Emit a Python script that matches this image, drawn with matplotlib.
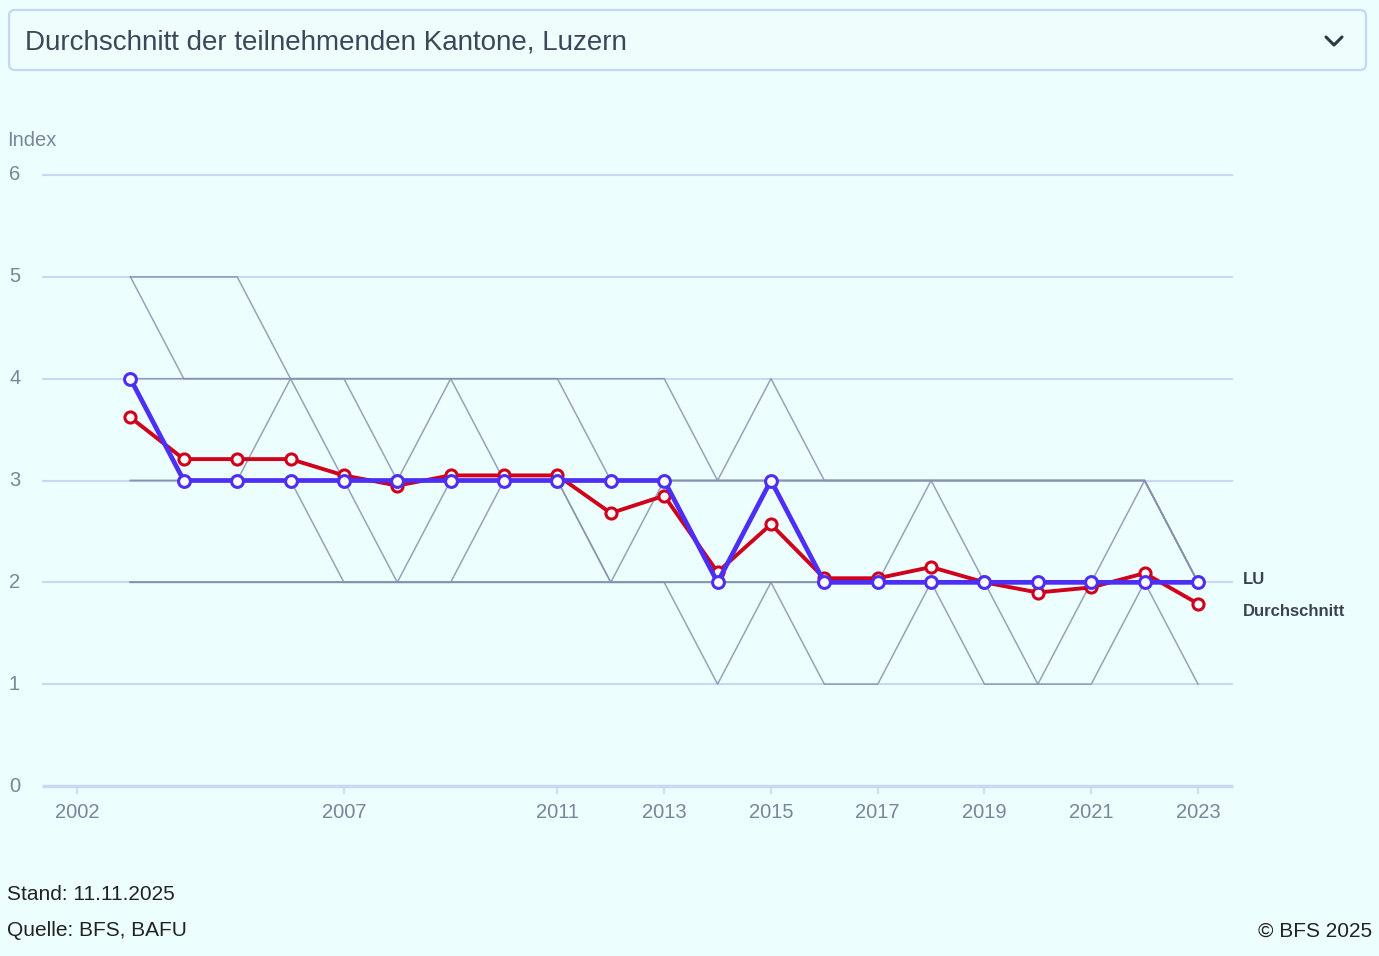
import numpy as np
import matplotlib.pyplot as plt
from matplotlib.patches import FancyBboxPatch
from matplotlib.transforms import blended_transform_factory

plt.rcParams["font.family"] = ["Liberation Sans", "DejaVu Sans"]

years = list(range(2003, 2024))
xtick_years = [2002, 2007, 2011, 2013, 2015, 2017, 2019, 2021, 2023]
ytick_values = [0, 1, 2, 3, 4, 5, 6]

# Luzern and average of participating cantons
lu = [4, 3, 3, 3, 3, 3, 3, 3, 3, 3, 3, 2, 3, 2, 2, 2, 2, 2, 2, 2, 2]
average = [3.62, 3.21, 3.21, 3.21, 3.05, 2.95, 3.05, 3.05, 3.05, 2.68, 2.85,
           2.10, 2.57, 2.04, 2.04, 2.15, 2.00, 1.90, 1.95, 2.09, 1.79]

# other participating cantons (grey background lines)
canton_a = [5, 4, 4, 4, 4, 4, 4, 4, 4, 4, 4, 3, 4, 3, 3, 3, 3, 3, 3, 3, 2]
canton_b = [5, 5, 5, 4, 3, 2, 3, 3, 3, 2, 2, 2, 2, 2, 2, 2, 2, 2, 2, 2, 2]
canton_c = [3, 3, 3, 4, 4, 3, 4, 3, 3, 3, 3, 3, 3, 3, 3, 3, 3, 3, 3, 3, 2]
canton_d = [4, 4, 4, 4, 4, 4, 4, 4, 4, 3, 3, 3, 3, 3, 3, 3, 3, 3, 3, 3, 2]
canton_e = [2, 2, 2, 2, 2, 2, 2, 2, 2, 2, 2, 1, 2, 1, 1, 2, 1, 1, 1, 2, 1]
canton_f = [2, 2, 2, 2, 2, 2, 2, 2, 2, 2, 2, 2, 2, 2, 2, 3, 2, 1, 2, 3, 2]
canton_g = [3, 3, 3, 3, 2, 2, 2, 3, 3, 2, 3, 3, 3, 3, 3, 3, 3, 3, 3, 3, 2]
canton_h = [2, 2, 2, 2, 2, 2, 2, 2, 2, 2, 2, 2, 2, 2, 2, 2, 2, 2, 2, 2, 2]
cantons = [canton_a, canton_b, canton_c, canton_d, canton_e, canton_f, canton_g, canton_h]

BG = "#edfefe"
GRID = "#cad9f3"
GREY_LINE = "#8792aa"
TICK_TEXT = "#7a849a"
LU_COLOR = "#4c2ef5"
AVG_COLOR = "#d0021b"

W, H = 1379, 956
fig = plt.figure(figsize=(W / 100, H / 100), dpi=100, facecolor=BG)

# overlay in pixel coordinates for the header box and footer texts
deco = fig.add_axes([0, 0, 1, 1], zorder=0)
deco.set_xlim(0, W)
deco.set_ylim(H, 0)
deco.axis("off")
deco.patch.set_alpha(0)

box = FancyBboxPatch((12, 13), 1351, 54, boxstyle="round,pad=3,rounding_size=6",
                     facecolor="#f0fdfd", edgecolor="#c6d6f6", linewidth=1.6)
deco.add_patch(box)
deco.text(25, 42, "Durchschnitt der teilnehmenden Kantone, Luzern", fontsize=20,
          color="#3c4759", va="center", ha="left")
deco.plot([1326, 1334, 1342], [37, 45, 37], color="#2f3747", lw=2.2,
          solid_capstyle="round", solid_joinstyle="round")

deco.text(7, 140, "Index", fontsize=14.5, color=TICK_TEXT, va="center", ha="left")
deco.text(7, 894, "Stand: 11.11.2025", fontsize=15, color="#222222", va="center", ha="left")
deco.text(7, 931, "Quelle: BFS, BAFU", fontsize=15, color="#222222", va="center", ha="left")
deco.text(1372, 931, "\u00a9 BFS 2025", fontsize=15, color="#222222", va="center", ha="right")

# main chart
px_per_year = (1198 - 77) / 21
x_left = 2002 - (77 - 42) / px_per_year
x_right = 2023 + (1233 - 1198) / px_per_year

ax = fig.add_axes([42 / W, (H - 786) / H, (1233 - 42) / W, (786 - 175) / H], zorder=1)
ax.patch.set_alpha(0)
ax.set_xlim(x_left, x_right)
ax.set_ylim(0, 6)
for side in ["top", "right", "left", "bottom"]:
    ax.spines[side].set_visible(False)

for v in ytick_values[1:]:
    ax.hlines(v, x_left, x_right, color=GRID, lw=1.5, zorder=1, clip_on=False)
ax.hlines(0, x_left, x_right, color=GRID, lw=2.5, zorder=1, clip_on=False)

for c in cantons:
    ax.plot(years, c, color=GREY_LINE, lw=1.1, alpha=0.85, zorder=2)

ax.plot(years, average, color=AVG_COLOR, lw=2.8, marker="o", markersize=8,
        markerfacecolor="white", markeredgecolor=AVG_COLOR, markeredgewidth=2.2,
        zorder=3, clip_on=False)
ax.plot(years, lu, color=LU_COLOR, lw=3.4, marker="o", markersize=8.5,
        markerfacecolor="white", markeredgecolor=LU_COLOR, markeredgewidth=2.2,
        zorder=4, clip_on=False)

ax.set_xticks(xtick_years)
ax.set_xticklabels([str(y) for y in xtick_years])
ax.set_yticks([])
ax.tick_params(axis="x", direction="out", length=6, width=1.3, color=GRID,
               labelcolor=TICK_TEXT, labelsize=14.5, pad=6)

# y labels sit at the left edge of the figure
ylab_tf = blended_transform_factory(deco.transData, ax.transData)
for v in ytick_values:
    ax.text(9, v, str(v), transform=ylab_tf, fontsize=14.5, color=TICK_TEXT,
            va="center", ha="left", clip_on=False)

ax.text(1243, 580, "LU", transform=deco.transData, fontsize=12, fontweight="bold",
        color="#3b4252", va="center", ha="left")
ax.text(1243, 611, "Durchschnitt", transform=deco.transData, fontsize=12,
        fontweight="bold", color="#3b4252", va="center", ha="left")

fig.savefig("out.png", dpi=100, facecolor=BG)
